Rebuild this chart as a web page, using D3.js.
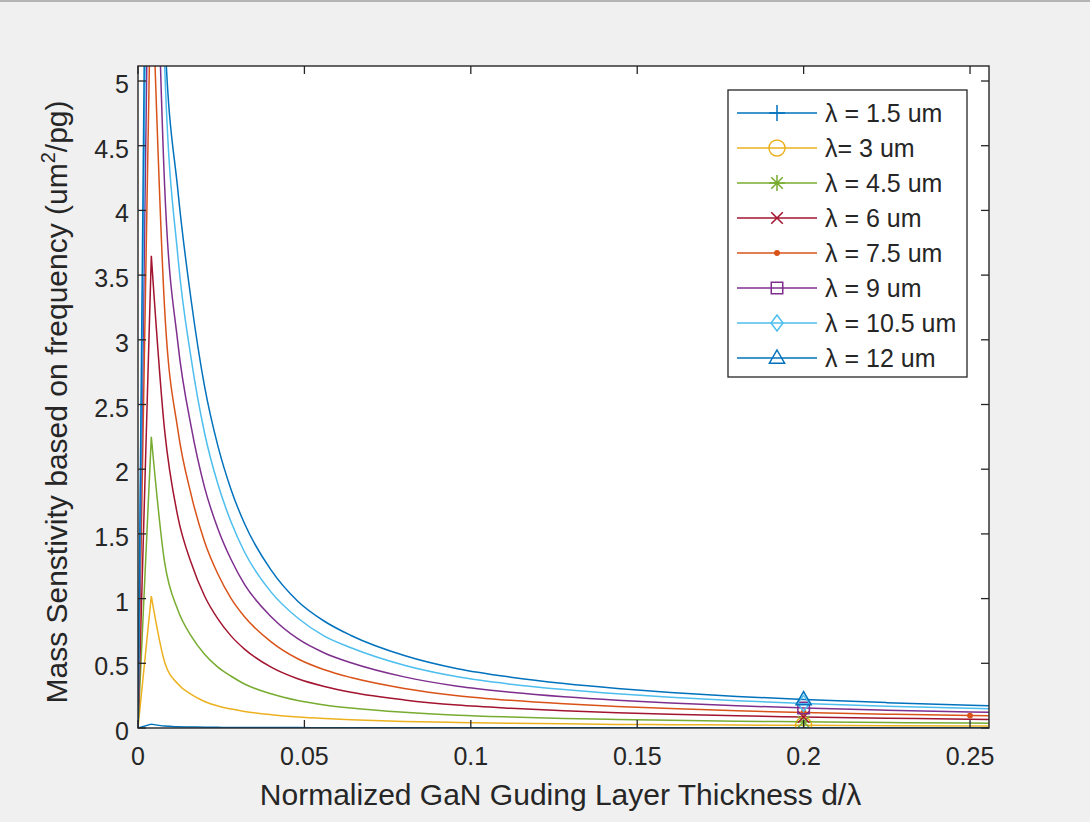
<!DOCTYPE html>
<html>
<head>
<meta charset="utf-8">
<script src="https://cdn.jsdelivr.net/npm/d3@7"></script>
<style>
body { margin: 0; background: #f0f0f0; }
text { font-family: "Liberation Sans", Arial, sans-serif; fill: #262626; }
</style>
</head>
<body>
<svg width="1090" height="822"></svg>
<script>
// normalized thickness d/lambda (sample points)
var thickness = [0, 0.004, 0.008, 0.012, 0.016, 0.02, 0.024, 0.028, 0.032, 0.04, 0.048, 0.056,
                 0.064, 0.08, 0.096, 0.112, 0.128, 0.144, 0.16, 0.18, 0.2, 0.225, 0.25, 0.256];

// mass sensitivity (um^2/pg) for every wavelength
var lam1_5 = [0, 0.03, 0.015, 0.010, 0.008, 0.006, 0.005, 0.004, 0.004, 0.003, 0.003, 0.002,
              0.002, 0.002, 0.001, 0.001, 0.001, 0.001, 0.001, 0.001, 0.001, 0.001, 0.001, 0.001];
var lam3   = [0, 1.02, 0.51, 0.34, 0.26, 0.205, 0.17, 0.146, 0.128, 0.103, 0.085, 0.073,
              0.064, 0.051, 0.043, 0.037, 0.032, 0.028, 0.026, 0.023, 0.021, 0.018, 0.016, 0.016];
var lam4_5 = [0, 2.25, 1.28, 0.91, 0.71, 0.57, 0.47, 0.40, 0.34, 0.264, 0.212, 0.178,
              0.154, 0.121, 0.099, 0.085, 0.074, 0.066, 0.059, 0.053, 0.0475, 0.042, 0.038, 0.037];
var lam6   = [0, 3.65, 2.3, 1.63, 1.275, 1.02, 0.843, 0.71, 0.61, 0.47, 0.38, 0.32,
              0.276, 0.217, 0.177, 0.152, 0.133, 0.118, 0.106, 0.094, 0.085, 0.0755, 0.068, 0.066];
var lam7_5 = [0, 6.0, 3.24, 2.30, 1.80, 1.44, 1.19, 1.0, 0.86, 0.666, 0.535, 0.45,
              0.39, 0.306, 0.25, 0.214, 0.1875, 0.167, 0.15, 0.133, 0.12, 0.107, 0.096, 0.094];
var lam9   = [0, 7.75, 4.19, 2.97, 2.325, 1.86, 1.54, 1.30, 1.11, 0.86, 0.69, 0.58,
              0.504, 0.395, 0.323, 0.277, 0.242, 0.215, 0.194, 0.172, 0.155, 0.138, 0.124, 0.121];
var lam10_5 = [0, 9.5, 5.13, 3.64, 2.85, 2.28, 1.885, 1.59, 1.36, 1.05, 0.85, 0.71,
               0.62, 0.485, 0.396, 0.339, 0.297, 0.264, 0.2375, 0.211, 0.19, 0.169, 0.152, 0.149];
var lam12  = [0, 11.0, 5.4, 4.15, 3.3, 2.64, 2.18, 1.84, 1.58, 1.22, 0.98, 0.825,
              0.715, 0.56, 0.458, 0.393, 0.344, 0.306, 0.275, 0.244, 0.22, 0.196, 0.176, 0.172];

var seriesNames = ["\u03bb = 1.5 um", "\u03bb= 3 um", "\u03bb = 4.5 um", "\u03bb = 6 um",
                   "\u03bb = 7.5 um", "\u03bb = 9 um", "\u03bb = 10.5 um", "\u03bb = 12 um"];
var seriesValues = [lam1_5, lam3, lam4_5, lam6, lam7_5, lam9, lam10_5, lam12];
var seriesColors = ["#0072bd", "#edb120", "#77ac30", "#a2142f", "#d95319", "#7e2f8e", "#4dbeee", "#0072bd"];
var markerTypes = ["plus", "circle", "star", "cross", "point", "square", "diamond", "triangle"];
// index into thickness where each series shows a marker
var markerAt = [[20], [20], [20], [20], [20, 22], [20], [20], [20]];

var xTicks = [0, 0.05, 0.1, 0.15, 0.2, 0.25];
var xTickLabels = ["0", "0.05", "0.1", "0.15", "0.2", "0.25"];
var yTicks = [0, 0.5, 1, 1.5, 2, 2.5, 3, 3.5, 4, 4.5, 5];
var yTickLabels = ["0", "0.5", "1", "1.5", "2", "2.5", "3", "3.5", "4", "4.5", "5"];

var svg = d3.select("svg");
var pLeft = 138, pRight = 989, pTop = 66, pBottom = 728;

svg.append("rect").attr("x", 0).attr("y", 0).attr("width", 1090).attr("height", 822).attr("fill", "#f0f0f0");
svg.append("rect").attr("x", 0).attr("y", 0).attr("width", 1090).attr("height", 2).attr("fill", "#b4b4b4");

var x = d3.scaleLinear().domain([0, 0.2557]).range([pLeft, pRight]);
var y = d3.scaleLinear().domain([0, 5.116]).range([pBottom, pTop]);

svg.append("rect")
    .attr("x", pLeft).attr("y", pTop)
    .attr("width", pRight - pLeft).attr("height", pBottom - pTop)
    .attr("fill", "#fff");

svg.append("clipPath").attr("id", "plotclip")
  .append("rect")
    .attr("x", pLeft).attr("y", pTop)
    .attr("width", pRight - pLeft).attr("height", pBottom - pTop);

function markerPath(type, s) {
  var d = s * 0.72;
  switch (type) {
    case "plus": return "M" + (-s) + ",0H" + s + "M0," + (-s) + "V" + s;
    case "cross": return "M" + (-d) + "," + (-d) + "L" + d + "," + d + "M" + (-d) + "," + d + "L" + d + "," + (-d);
    case "star": return "M" + (-s) + ",0H" + s + "M0," + (-s) + "V" + s +
                        "M" + (-d) + "," + (-d) + "L" + d + "," + d + "M" + (-d) + "," + d + "L" + d + "," + (-d);
    case "circle": return d3.symbol(d3.symbolCircle, Math.PI * s * s)();
    case "square": return "M" + (-d) + "," + (-d) + "H" + d + "V" + d + "H" + (-d) + "Z";
    case "diamond": return "M0," + (-s) + "L" + (s * 0.75) + ",0L0," + s + "L" + (-s * 0.75) + ",0Z";
    case "triangle": return "M0," + (-s) + "L" + (s * 0.95) + "," + (s * 0.65) + "L" + (-s * 0.95) + "," + (s * 0.65) + "Z";
    case "point": return d3.symbol(d3.symbolCircle, Math.PI * 2.2 * 2.2)();
  }
}

// straight rise to the first sample, smooth decay afterwards
var riseLine = d3.line()
    .x(function(d) { return x(d[0]); })
    .y(function(d) { return y(d[1]); });
var decayLine = d3.line()
    .curve(d3.curveMonotoneX)
    .x(function(d) { return x(d[0]); })
    .y(function(d) { return y(d[1]); });

var plot = svg.append("g").attr("clip-path", "url(#plotclip)");

seriesValues.forEach(function(vals, k) {
  var pts = vals.map(function(v, i) { return [thickness[i], v]; });
  plot.append("path")
      .attr("d", riseLine(pts.slice(0, 2)) + decayLine(pts.slice(1)))
      .attr("fill", "none")
      .attr("stroke", seriesColors[k])
      .attr("stroke-width", 1.5)
      .attr("stroke-linejoin", "round");
});

seriesValues.forEach(function(vals, k) {
  markerAt[k].forEach(function(i) {
    plot.append("path")
        .attr("transform", "translate(" + x(thickness[i]) + "," + y(vals[i]) + ")")
        .attr("d", markerPath(markerTypes[k], 8))
        .attr("fill", markerTypes[k] == "point" ? seriesColors[k] : "none")
        .attr("stroke", seriesColors[k])
        .attr("stroke-width", 1.5);
  });
});

// axes box with inward ticks on all sides
var axisColor = "#262626";
var axes = svg.append("g");
var tl = 8;
xTicks.forEach(function(t) {
  axes.append("line").attr("x1", x(t)).attr("x2", x(t)).attr("y1", pBottom).attr("y2", pBottom - tl).attr("stroke", axisColor).attr("stroke-width", 1.3);
  axes.append("line").attr("x1", x(t)).attr("x2", x(t)).attr("y1", pTop).attr("y2", pTop + tl).attr("stroke", axisColor).attr("stroke-width", 1.3);
});
yTicks.forEach(function(t) {
  axes.append("line").attr("x1", pLeft).attr("x2", pLeft + tl).attr("y1", y(t)).attr("y2", y(t)).attr("stroke", axisColor).attr("stroke-width", 1.3);
  axes.append("line").attr("x1", pRight).attr("x2", pRight - tl).attr("y1", y(t)).attr("y2", y(t)).attr("stroke", axisColor).attr("stroke-width", 1.3);
});
axes.append("rect")
    .attr("x", pLeft).attr("y", pTop)
    .attr("width", pRight - pLeft).attr("height", pBottom - pTop)
    .attr("fill", "none").attr("stroke", axisColor).attr("stroke-width", 1.4);

axes.selectAll(".xlab").data(xTicks).enter().append("text")
    .attr("x", function(d) { return x(d); })
    .attr("y", pBottom + 37)
    .attr("text-anchor", "middle")
    .attr("font-size", 25)
    .text(function(d, i) { return xTickLabels[i]; });

axes.selectAll(".ylab").data(yTicks).enter().append("text")
    .attr("x", pLeft - 9)
    .attr("y", function(d) { return y(d) + 12; })
    .attr("text-anchor", "end")
    .attr("font-size", 25)
    .text(function(d, i) { return yTickLabels[i]; });

svg.append("text")
    .attr("x", (pLeft + pRight) / 2 - 3)
    .attr("y", pBottom + 77)
    .attr("text-anchor", "middle")
    .attr("font-size", 30)
    .text("Normalized GaN Guding Layer Thickness d/\u03bb");

var ylab = svg.append("text")
    .attr("transform", "translate(67,402) rotate(-90)")
    .attr("text-anchor", "middle")
    .attr("font-size", 30);
ylab.append("tspan").text("Mass Senstivity based on frequency (um");
ylab.append("tspan").attr("font-size", 20).attr("dy", -12).text("2");
ylab.append("tspan").attr("dy", 12).text("/pg)");

// legend
var lg = svg.append("g");
lg.append("rect")
    .attr("x", 728).attr("y", 90).attr("width", 239).attr("height", 287)
    .attr("fill", "#fff").attr("stroke", axisColor).attr("stroke-width", 1.3);
seriesNames.forEach(function(name, k) {
  var cy = 113 + k * 35;
  lg.append("line").attr("x1", 737).attr("x2", 817).attr("y1", cy).attr("y2", cy)
      .attr("stroke", seriesColors[k]).attr("stroke-width", 1.5);
  lg.append("path")
      .attr("transform", "translate(777," + cy + ")")
      .attr("d", markerPath(markerTypes[k], 8))
      .attr("fill", markerTypes[k] == "point" ? seriesColors[k] : "none")
      .attr("stroke", seriesColors[k]).attr("stroke-width", 1.5);
  lg.append("text").attr("x", 825).attr("y", cy + 9).attr("font-size", 25).text(name);
});
</script>
</body>
</html>
